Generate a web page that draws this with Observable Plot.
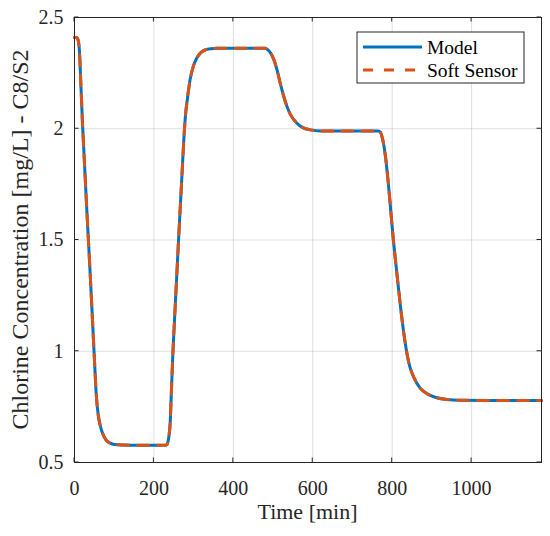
<!DOCTYPE html>
<html><head><meta charset="utf-8">
<script src="https://cdn.jsdelivr.net/npm/d3@7"></script>
<script src="https://cdn.jsdelivr.net/npm/@observablehq/plot@0.6"></script>
<style>body{margin:0;background:#fff}</style>
</head><body><div id="chart"></div>
<script>
const time = [0,5,8,10,12,16,20,25,30,35,40,45,50,55,60,65,70,80,90,100,120,160,200,232,235,238,241,244,248,255,262,270,277,280,284,291,300,308,318,330,345,360,420,480,487,494,501,510,518,527,535,545,560,575,594,620,700,765,770,775,782,790,797,803,810,816,825,833,843,854,870,888,910,938,970,1050,1176];
const model = [2.41,2.41,2.405,2.39,2.36,2.20,2.03,1.85,1.67,1.50,1.33,1.15,0.97,0.80,0.71,0.665,0.635,0.60,0.587,0.581,0.579,0.578,0.578,0.579,0.59,0.62,0.68,0.82,1.00,1.25,1.50,1.77,2.00,2.07,2.13,2.22,2.285,2.318,2.342,2.355,2.36,2.362,2.362,2.362,2.355,2.34,2.315,2.265,2.205,2.145,2.10,2.06,2.025,2.005,1.995,1.99,1.99,1.99,1.985,1.96,1.89,1.76,1.62,1.50,1.38,1.28,1.14,1.035,0.94,0.885,0.835,0.809,0.792,0.783,0.78,0.779,0.779];
const softSensor = [2.41,2.41,2.405,2.39,2.36,2.20,2.03,1.85,1.67,1.50,1.33,1.15,0.97,0.80,0.71,0.665,0.635,0.60,0.587,0.581,0.579,0.578,0.578,0.579,0.59,0.62,0.68,0.82,1.00,1.25,1.50,1.77,2.00,2.07,2.13,2.22,2.285,2.318,2.342,2.355,2.36,2.362,2.362,2.362,2.355,2.34,2.315,2.265,2.205,2.145,2.10,2.06,2.025,2.005,1.995,1.99,1.99,1.99,1.985,1.96,1.89,1.76,1.62,1.50,1.38,1.28,1.14,1.035,0.94,0.885,0.835,0.809,0.792,0.783,0.78,0.779,0.779];
const xTicks = [0,200,400,600,800,1000];
const xTickLabels = ["0","200","400","600","800","1000"];
const yTicks = [0.5,1,1.5,2,2.5];
const yTickLabels = ["0.5","1","1.5","2","2.5"];
const seriesNames = ["Model","Soft Sensor"];
const colors = ["#0072BD","#D95319"];
const xLabel = "Time [min]";
const yLabel = "Chlorine Concentration [mg/L] - C8/S2";

const rows = time.map((t,i)=>({t, model: model[i], sensor: softSensor[i]}));
const axisColor = "#262626";
const font = "Liberation Serif, Times New Roman, serif";

const plot = Plot.plot({
  width:550, height:536, marginLeft:74, marginRight:9, marginTop:17, marginBottom:74,
  style:{fontFamily:font, fontSize:"20px", color:axisColor, background:"#fff", overflow:"visible"},
  x:{domain:[0,1176]},
  y:{domain:[0.5,2.5]},
  marks:[
    Plot.gridX(xTicks,{stroke:"#000", strokeOpacity:0.13, strokeWidth:1}),
    Plot.gridY(yTicks,{stroke:"#000", strokeOpacity:0.13, strokeWidth:1}),
    Plot.axisX(xTicks,{tickSize:0, tickPadding:18, label:null, fontSize:20, fill:axisColor, tickFormat:d=>xTickLabels[xTicks.indexOf(d)]}),
    Plot.axisY(yTicks,{tickSize:0, tickPadding:11, label:null, fontSize:20, fill:axisColor, tickFormat:d=>yTickLabels[yTicks.indexOf(d)]}),
    Plot.line(rows,{x:"t", y:"model", stroke:colors[0], strokeWidth:3, curve:"monotone-x"}),
    Plot.line(rows,{x:"t", y:"sensor", stroke:colors[1], strokeWidth:3, strokeDasharray:"11,9", curve:"monotone-x"}),
    Plot.frame({stroke:axisColor, strokeWidth:1})
  ]
});

const svg = d3.select(plot);
svg.selectAll("text").style("font-family",font).style("font-size","20px");

const sx = plot.scale("x"), sy = plot.scale("y");
const L = sx.apply(0), R = sx.apply(1176), B = sy.apply(0.5), T = sy.apply(2.5);
const tk = svg.append("g").attr("stroke",axisColor).attr("stroke-width",1);
const tl = 4.5;
xTicks.forEach(v=>{
  const x = sx.apply(v);
  tk.append("line").attr("x1",x).attr("x2",x).attr("y1",B).attr("y2",B-tl);
  tk.append("line").attr("x1",x).attr("x2",x).attr("y1",T).attr("y2",T+tl);
});
yTicks.forEach(v=>{
  const y = sy.apply(v);
  tk.append("line").attr("x1",L).attr("x2",L+tl).attr("y1",y).attr("y2",y);
  tk.append("line").attr("x1",R).attr("x2",R-tl).attr("y1",y).attr("y2",y);
});

svg.append("text").attr("x",(L+R)/2).attr("y",519).attr("text-anchor","middle")
  .style("font-family",font).style("font-size","22px").attr("fill",axisColor).text(xLabel);
svg.append("text").attr("transform",`translate(28,${(T+B)/2}) rotate(-90)`).attr("text-anchor","middle")
  .style("font-family",font).style("font-size","24px").attr("fill",axisColor).text(yLabel);

// legend
const lg = svg.append("g");
lg.append("rect").attr("x",357).attr("y",32).attr("width",167).attr("height",51)
  .attr("fill","#fff").attr("stroke",axisColor).attr("stroke-width",1);
const ly = [47,70];
seriesNames.forEach((name,i)=>{
  const ln = lg.append("line").attr("x1",363).attr("x2",422).attr("y1",ly[i]).attr("y2",ly[i])
    .attr("stroke",colors[i]).attr("stroke-width",3);
  if (i===1) ln.attr("stroke-dasharray","10,11");
  lg.append("text").attr("x",427).attr("y",ly[i]+6.5).attr("text-anchor","start")
    .style("font-family",font).style("font-size","19.5px").attr("fill","#000").text(name);
});

document.getElementById("chart").appendChild(plot);
</script>
</body></html>
